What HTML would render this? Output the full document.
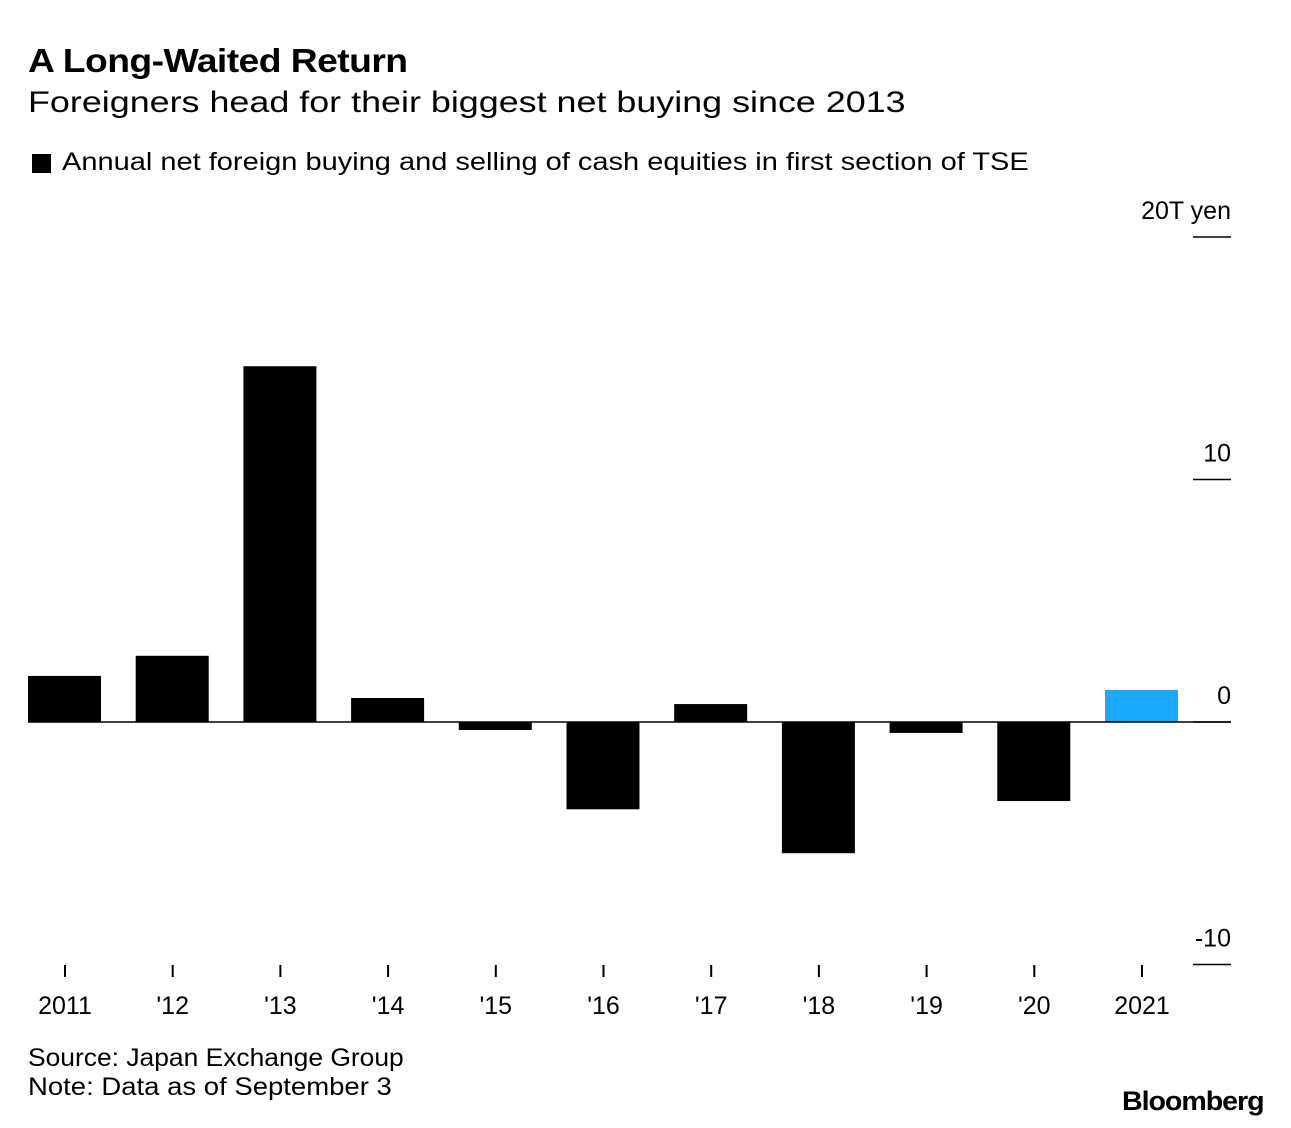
<!DOCTYPE html>
<html><head><meta charset="utf-8"><style>
body{margin:0;background:#fff;font-family:"Liberation Sans",sans-serif;}
.wrap{position:relative;width:1291px;height:1128px;overflow:hidden;}
.t{position:absolute;white-space:nowrap;color:#000;transform-origin:0 0;}
</style></head><body>
<div class="wrap">
<div class="t" style="left:28px;top:42px;font-size:33px;font-weight:bold;letter-spacing:-0.5px;transform:scaleX(1.13)">A Long-Waited Return</div>
<div class="t" style="left:28px;top:86px;font-size:30px;transform:scaleX(1.196)">Foreigners head for their biggest net buying since 2013</div>
<div style="position:absolute;left:32px;top:154px;width:19px;height:19px;background:#000"></div>
<div class="t" style="left:62px;top:148px;font-size:25px;transform:scaleX(1.16)">Annual net foreign buying and selling of cash equities in first section of TSE</div>
<svg id="chart" width="1291" height="1128" style="position:absolute;left:0;top:0"></svg>
<div class="t" style="left:28px;top:1044px;font-size:25px;transform:scaleX(1.056)">Source: Japan Exchange Group</div>
<div class="t" style="left:28px;top:1073px;font-size:25px;transform:scaleX(1.10)">Note: Data as of September 3</div>
<div class="t" style="left:1122px;top:1086px;font-size:27px;font-weight:bold;letter-spacing:-1px;transform:scaleX(1.06)">Bloomberg</div>
</div>
<script>
const categories=["2011","'12","'13","'14","'15","'16","'17","'18","'19","'20","2021"];
const values=[1.9,2.73,14.67,0.99,-0.33,-3.6,0.74,-5.41,-0.45,-3.26,1.32];
const yTicks=[20,10,0,-10];
const yTickLabels=["20T yen","10","0","-10"];
const NS="http://www.w3.org/2000/svg";
const svg=document.getElementById('chart');
const y=v=>722-v*24.25;
const x=i=>65+i*107.7;
function mk(t,a){const e=document.createElementNS(NS,t);for(const k in a)e.setAttribute(k,a[k]);svg.appendChild(e);return e;}
yTicks.forEach((v,i)=>{
 const l=mk('line',{x1:1193,x2:1231,y1:y(v),y2:y(v),stroke:'#000','stroke-width':1.5});
 
 
 const t=mk('text',{x:1231,y:y(v)-18,'text-anchor':'end','font-size':25,'font-family':'Liberation Sans, sans-serif'});
 t.textContent=yTickLabels[i];
 
 
});
values.forEach((v,i)=>{
 const top=Math.min(y(v),y(0)),h=Math.abs(y(v)-y(0));
 const r=mk('rect',{x:x(i)-37,y:top,width:73,height:h,fill:i===values.length-1?'#1aa9ff':'#000'});
 
 
 const tk=mk('line',{x1:x(i),x2:x(i),y1:965,y2:977,stroke:'#000','stroke-width':2});
 
 
 const t=mk('text',{x:x(i),y:1014,'text-anchor':'middle','font-size':25,'font-family':'Liberation Sans, sans-serif'});
 t.textContent=categories[i];
 
 
});
const z=mk('line',{x1:28,x2:1231,y1:y(0),y2:y(0),stroke:'#000','stroke-width':1.5});


</script>
</body></html>
